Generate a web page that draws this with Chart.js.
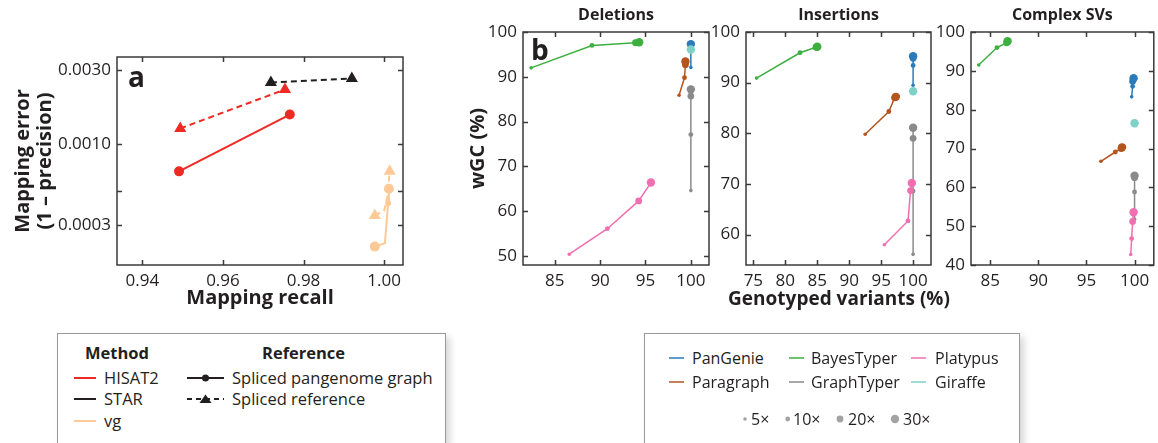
<!DOCTYPE html>
<html>
<head>
<meta charset="utf-8">
<script src="https://cdn.jsdelivr.net/npm/chart.js@4.4.1/dist/chart.umd.min.js"></script>
<style>
  body { margin: 0; background: #fff; width: 1158px; height: 443px; position: relative; overflow: hidden;
         font-family: "Open Sans", sans-serif; color: #231f20; }
  canvas { position: absolute; top: 0; }
  .box { position: absolute; border: 1px solid #9a9a9a; background: #fff; box-shadow: 4px 4px 7px rgba(0,0,0,.16); }
  .box svg { position: absolute; left: 0; top: 0; }
  .t { position: absolute; white-space: nowrap; transform: translateY(-50%); line-height: 1; }
  .la .t { font-size: 16.5px; }
  .lb .t { font-size: 16px; }
  .b { font-weight: bold; }
  #xTitleB { position: absolute; left: 839px; top: 298px; transform: translate(-50%, -50%); white-space: nowrap;
             font-weight: bold; font-size: 19px; line-height: 1; }
</style>
</head>
<body>
<canvas id="chartA" width="420" height="320" style="left:0"></canvas>
<canvas id="chartDel" width="275" height="320" style="left:440px"></canvas>
<canvas id="chartIns" width="240" height="320" style="left:700px"></canvas>
<canvas id="chartCx" width="233" height="320" style="left:925px"></canvas>
<div id="xTitleB">Genotyped variants (%)</div>

<div class="box la" style="left:57px;top:333px;width:387px;height:109px">
  <svg width="387" height="109">
    <line x1="16" x2="38" y1="44" y2="44" stroke="#ee2a24" stroke-width="2"/>
    <line x1="16" x2="38" y1="65" y2="65" stroke="#231f20" stroke-width="2"/>
    <line x1="16" x2="38" y1="87" y2="87" stroke="#fdc996" stroke-width="2"/>
    <line x1="129" x2="166" y1="44" y2="44" stroke="#231f20" stroke-width="2"/>
    <circle cx="147.5" cy="44" r="3.5" fill="#231f20"/>
    <line x1="129" x2="166" y1="65" y2="65" stroke="#231f20" stroke-width="2" stroke-dasharray="5 4"/>
    <polygon points="141.5,69 153.5,69 147.5,60.5" fill="#231f20"/>
  </svg>
  <div class="t b" style="left:27px;top:19px">Method</div>
  <div class="t b" style="left:204px;top:19px">Reference</div>
  <div class="t" style="left:46px;top:44px">HISAT2</div>
  <div class="t" style="left:46px;top:65px">STAR</div>
  <div class="t" style="left:46px;top:87px">vg</div>
  <div class="t" style="left:174px;top:44px">Spliced pangenome graph</div>
  <div class="t" style="left:174px;top:65px">Spliced reference</div>
</div>

<div class="box lb" style="left:644px;top:333px;width:374px;height:109px">
  <svg width="374" height="109">
    <line x1="24" x2="39" y1="24" y2="24" stroke="#2b7bba" stroke-width="1.5"/>
    <line x1="144" x2="159" y1="24" y2="24" stroke="#3daf3f" stroke-width="1.5"/>
    <line x1="266" x2="281" y1="24" y2="24" stroke="#ef6fb0" stroke-width="1.5"/>
    <line x1="24" x2="39" y1="48" y2="48" stroke="#b5541c" stroke-width="1.5"/>
    <line x1="144" x2="159" y1="48" y2="48" stroke="#8a8a8a" stroke-width="1.5"/>
    <line x1="266" x2="281" y1="48" y2="48" stroke="#7fd1c8" stroke-width="1.5"/>
    <circle cx="100" cy="85" r="1.8" fill="#a3a3a3"/>
    <circle cx="142.7" cy="85" r="2.4" fill="#a3a3a3"/>
    <circle cx="195" cy="85" r="3.4" fill="#a3a3a3"/>
    <circle cx="250" cy="85" r="4.2" fill="#a3a3a3"/>
  </svg>
  <div class="t" style="left:47px;top:24px">PanGenie</div>
  <div class="t" style="left:166px;top:24px">BayesTyper</div>
  <div class="t" style="left:290px;top:24px">Platypus</div>
  <div class="t" style="left:47px;top:48px">Paragraph</div>
  <div class="t" style="left:166px;top:48px">GraphTyper</div>
  <div class="t" style="left:290px;top:48px">Giraffe</div>
  <div class="t" style="left:106px;top:85px">5×</div>
  <div class="t" style="left:148px;top:85px">10×</div>
  <div class="t" style="left:203px;top:85px">20×</div>
  <div class="t" style="left:258px;top:85px">30×</div>
</div>

<script>
// ---- panel a: mapping recall vs mapping error (1 - precision) ----
const aYTicks = [0.0003, 0.0005, 0.001, 0.003];
const aYTickLabels = ['0.0003', '', '0.0010', '0.0030'];
const aHisat2Graph = [[0.9491, 0.000665], [0.9766, 0.00155]];
const aHisat2Ref = [[0.9494, 0.00126], [0.9754, 0.00225]];
const aStarRef = [[0.9719, 0.0025], [0.9920, 0.00265]];
const aVgGraph = [[0.9977, 0.000217], [1.0002, 0.000228], [1.0010, 0.000413], [1.0012, 0.000514]];
const aVgRef = [[0.9977, 0.000345], [1.0000, 0.00037], [1.0008, 0.00045], [1.0014, 0.000665]];

// ---- panel b: genotyped variants (%) vs wGC (%), points at 5x, 10x, 20x, 30x ----
const coverages = ['5×', '10×', '20×', '30×'];

const delPanGenie = [[100, 92.1], [100, 96.6], [100, 97.2], [100, 97.3]];
const delBayesTyper = [[82.4, 92.0], [89.1, 97.0], [93.9, 97.6], [94.3, 97.7]];
const delPlatypus = [[86.6, 50.4], [90.8, 56.1], [94.25, 62.3], [95.6, 66.4]];
const delParagraph = [[98.7, 85.9], [99.3, 89.8], [99.4, 92.7], [99.4, 93.4]];
const delGraphTyper = [[100, 64.6], [100, 77.1], [100, 85.7], [100, 87.2]];
const delGiraffe = [[100, 96.1]];

const insPanGenie = [[100, 89.5], [100, 93.4], [100, 94.8], [100, 95.2]];
const insBayesTyper = [[75.5, 90.9], [82.3, 95.9], [84.8, 97.0], [85.0, 97.1]];
const insPlatypus = [[95.5, 58.0], [99.2, 62.7], [99.6, 68.7], [99.8, 70.2]];
const insParagraph = [[92.5, 79.8], [96.2, 84.3], [97.1, 87.0], [97.3, 87.2]];
const insGraphTyper = [[100, 56.1], [100, 68.6], [100, 79.0], [100, 81.1]];
const insGiraffe = [[100, 88.3]];

const cxPanGenie = [[99.7, 83.3], [99.8, 86.0], [99.8, 87.3], [99.9, 88.1]];
const cxBayesTyper = [[83.8, 91.5], [85.7, 96.0], [86.7, 97.2], [86.8, 97.6]];
const cxPlatypus = [[99.6, 42.7], [99.7, 46.8], [99.8, 51.2], [99.9, 53.6]];
const cxParagraph = [[96.5, 66.7], [98.0, 69.1], [98.6, 70.0], [98.7, 70.3]];
const cxGraphTyper = [[100, 51.8], [100, 58.8], [100, 62.5], [100, 63.0]];
const cxGiraffe = [[100, 76.5]];

Chart.defaults.font.family = '"Open Sans", sans-serif';
Chart.defaults.color = '#231f20';
Chart.defaults.animation = false;

const ink = '#231f20';
const tickFont = { size: 17 };
const coverageRadius = [1.8, 2.4, 3.4, 4.2];
const colors = {
  PanGenie: '#2b7bba', BayesTyper: '#3daf3f', Platypus: '#ef6fb0',
  Paragraph: '#b5541c', GraphTyper: '#8a8a8a', Giraffe: '#7fd1c8'
};

const toXY = pairs => pairs.map(p => ({ x: p[0], y: p[1] }));

// box around the plot with inward tick marks on all four sides, plus panel titles
const framePlugin = {
  id: 'frame',
  afterDraw(chart, args, opts) {
    const { ctx, chartArea: a, scales: { x, y } } = chart;
    const len = 5;
    ctx.save();
    ctx.strokeStyle = '#3a3a3a';
    ctx.lineWidth = 1.5;
    ctx.strokeRect(a.left, a.top, a.right - a.left, a.bottom - a.top);
    ctx.beginPath();
    x.ticks.forEach(t => {
      const px = Math.round(x.getPixelForValue(t.value)) + 0.5;
      ctx.moveTo(px, a.bottom); ctx.lineTo(px, a.bottom - len);
      ctx.moveTo(px, a.top); ctx.lineTo(px, a.top + len);
    });
    y.ticks.forEach(t => {
      const py = Math.round(y.getPixelForValue(t.value)) + 0.5;
      ctx.moveTo(a.left, py); ctx.lineTo(a.left + len, py);
      ctx.moveTo(a.right, py); ctx.lineTo(a.right - len, py);
    });
    ctx.stroke();
    ctx.fillStyle = ink;
    ctx.textAlign = 'center';
    ctx.textBaseline = 'middle';
    if (opts.title) {
      ctx.font = 'bold 16px "Open Sans"';
      ctx.fillText(opts.title, (a.left + a.right) / 2, 15);
    }
    if (opts.letter) {
      ctx.font = 'bold 28px "Open Sans"';
      ctx.textAlign = 'left';
      ctx.textBaseline = 'alphabetic';
      ctx.fillText(opts.letter, a.left + opts.letterDx, a.top + opts.letterDy);
    }
    ctx.restore();
  }
};

function linAxis(min, max, step, size, title, titleSize, titlePad, horizontal) {
  return {
    type: 'linear', min, max,
    grid: { display: false, drawTicks: false },
    border: { display: false },
    ticks: { stepSize: step, includeBounds: false, autoSkip: false, padding: 6, font: tickFont, color: ink },
    title: title ? { display: true, text: title, color: ink, font: { size: titleSize, weight: 'bold', lineHeight: 1.2 }, padding: titlePad } : { display: false },
    afterFit: s => { if (horizontal) s.height = size; else s.width = size; }
  };
}

// ---- panel a ----
new Chart(document.getElementById('chartA'), {
  type: 'scatter',
  data: {
    datasets: [
      { data: toXY(aHisat2Graph), borderColor: '#ee2a24', backgroundColor: '#ee2a24', borderWidth: 2, showLine: true, pointStyle: 'circle', pointRadius: 4 },
      { data: toXY(aHisat2Ref), borderColor: '#ee2a24', backgroundColor: '#ee2a24', borderWidth: 2, borderDash: [6, 4], showLine: true, pointStyle: 'triangle', pointRadius: 5 },
      { data: toXY(aStarRef), borderColor: ink, backgroundColor: ink, borderWidth: 2, borderDash: [6, 4], showLine: true, pointStyle: 'triangle', pointRadius: 5 },
      { data: toXY(aVgGraph), borderColor: '#fdc996', backgroundColor: '#fdc996', borderWidth: 2, showLine: true, pointStyle: 'circle', pointRadius: [4, 0, 2, 4] },
      { data: toXY(aVgRef), borderColor: '#fdc996', backgroundColor: '#fdc996', borderWidth: 2, borderDash: [6, 4], showLine: true, pointStyle: 'triangle', pointRadius: [5, 0, 0, 5] }
    ]
  },
  options: {
    responsive: false,
    layout: { padding: { top: 57, right: 17, left: 0, bottom: 0 } },
    plugins: { legend: { display: false }, tooltip: { enabled: false },
      frame: { letter: 'a', letterDx: 11, letterDy: 30 } },
    scales: {
      x: Object.assign(linAxis(0.9337, 1.0047, 0.02, 55, 'Mapping recall', 20, { top: 0, bottom: 10 }, true), {
        ticks: { stepSize: 0.02, includeBounds: false, autoSkip: false, padding: 6, font: tickFont, color: ink, callback: v => v.toFixed(2) }
      }),
      y: {
        type: 'logarithmic', min: 0.000165, max: 0.00365,
        grid: { display: false, drawTicks: false },
        border: { display: false },
        afterBuildTicks: s => { s.ticks = aYTicks.map(v => ({ value: v })); },
        ticks: { autoSkip: false, padding: 6, font: tickFont, color: ink,
          callback: v => { const i = aYTicks.indexOf(v); return i < 0 ? '' : aYTickLabels[i]; } },
        title: { display: true, text: ['Mapping error', '(1 – precision)'], color: ink, font: { size: 20, weight: 'bold', lineHeight: 1.1 }, padding: { top: 12, bottom: 0 } },
        afterFit: s => { s.width = 117; }
      }
    }
  },
  plugins: [framePlugin]
});

// ---- panel b ----
function svDatasets(s) {
  const order = ['Giraffe', 'PanGenie', 'Paragraph', 'BayesTyper', 'Platypus', 'GraphTyper'];
  return order.map(name => ({
    label: name,
    data: toXY(s[name]),
    borderColor: colors[name],
    backgroundColor: colors[name],
    borderWidth: 1.5,
    showLine: true,
    pointStyle: 'circle',
    pointRadius: name === 'Giraffe' ? 4.2 : coverageRadius.slice(0, s[name].length),
    pointBorderWidth: 0
  }));
}

function svChart(id, series, o) {
  return new Chart(document.getElementById(id), {
    type: 'scatter',
    data: { datasets: svDatasets(series) },
    options: {
      responsive: false,
      layout: { padding: { top: 32, right: o.padRight, left: 0, bottom: 0 } },
      plugins: { legend: { display: false }, tooltip: { enabled: false },
        frame: { title: o.title, letter: o.letter, letterDx: 8, letterDy: 28 } },
      scales: {
        x: linAxis(o.xMin, o.xMax, 5, 55, null, 20, null, true),
        y: linAxis(o.yMin, o.yMax, 10, o.yWidth, o.yTitle, 20, { top: 26, bottom: 0 }, false)
      }
    },
    plugins: [framePlugin]
  });
}

svChart('chartDel', {
  PanGenie: delPanGenie, BayesTyper: delBayesTyper, Platypus: delPlatypus,
  Paragraph: delParagraph, GraphTyper: delGraphTyper, Giraffe: delGiraffe
}, { title: 'Deletions', letter: 'b', xMin: 81.5, xMax: 102, yMin: 48, yMax: 100, yWidth: 83, padRight: 6, yTitle: 'wGC (%)' });

svChart('chartIns', {
  PanGenie: insPanGenie, BayesTyper: insBayesTyper, Platypus: insPlatypus,
  Paragraph: insParagraph, GraphTyper: insGraphTyper, Giraffe: insGiraffe
}, { title: 'Insertions', xMin: 73.85, xMax: 102.8, yMin: 54, yMax: 100, yWidth: 46, padRight: 9 });

svChart('chartCx', {
  PanGenie: cxPanGenie, BayesTyper: cxBayesTyper, Platypus: cxPlatypus,
  Paragraph: cxParagraph, GraphTyper: cxGraphTyper, Giraffe: cxGiraffe
}, { title: 'Complex SVs', xMin: 83, xMax: 102, yMin: 40, yMax: 100, yWidth: 46, padRight: 1 });
</script>
</body>
</html>
